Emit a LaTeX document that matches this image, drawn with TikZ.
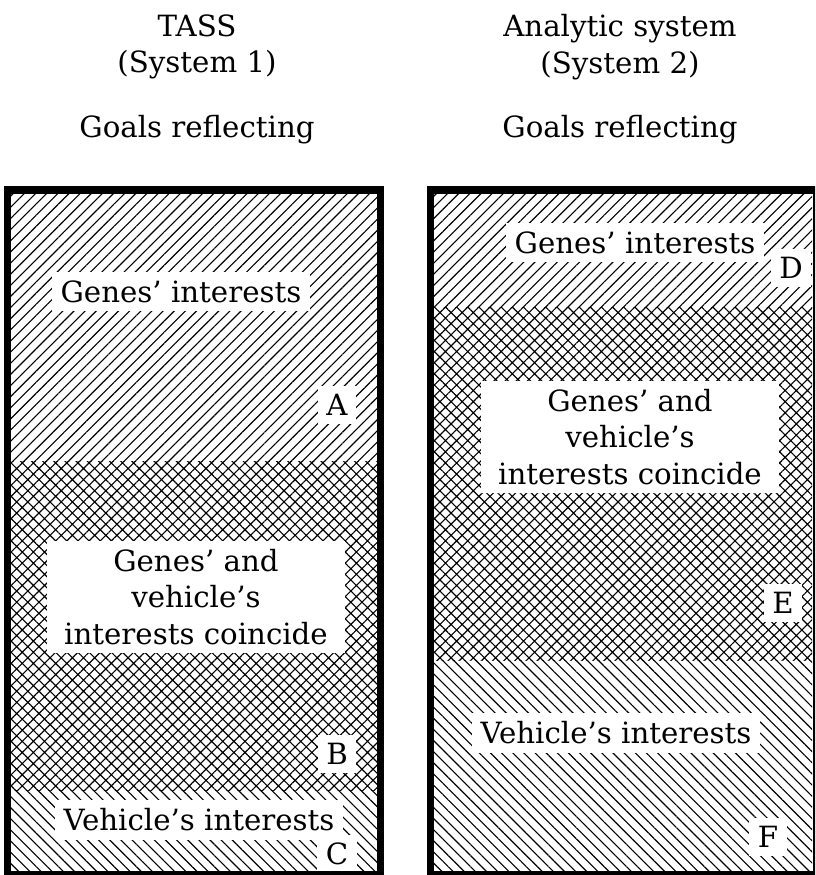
\documentclass[tikz,border=0pt]{standalone}
\usepackage{fontspec}
\setmainfont{DejaVu Serif}
\usetikzlibrary{patterns.meta}

\begin{document}
\begin{tikzpicture}[x=0.0125cm, y=-0.0125cm,
  font=\fontsize{10.4}{13}\selectfont,
  fwd/.style={pattern={Lines[angle=45, distance=2.8pt, line width=0.4pt]}},
  bwd/.style={pattern={Lines[angle=-45, distance=2.8pt, line width=0.4pt]}},
  cross/.style={pattern={Hatch[angle=45, distance=2.8pt, line width=0.4pt]}},
  frame/.style={line width=2.5pt},
  lbl/.style={fill=white, inner sep=3pt, align=center},
  tag/.style={fill=white, inner sep=3pt},
  head/.style={align=center}
]
\clip (0,0) rectangle (815,875);

% headings
\node[head] (tass) at (197,47) {TASS\\(System 1)};
\node[head] (goalsL) at (197,130) {Goals reflecting};
\node[head] (ana) at (620,47) {Analytic system\\(System 2)};
\node[head] (goalsR) at (620,130) {Goals reflecting};

% TASS column
\path[fwd] (11,194) rectangle (377,461);
\path[cross] (11,461) rectangle (377,790);
\path[bwd] (11,790) rectangle (377,871);
\node[lbl] (genesL) at (181,292) {Genes' interests};
\node[tag] (a) at (337,405) {A};
\node[lbl, inner xsep=6pt] (bothL) at (196,597) {Genes' and\\vehicle's\\interests coincide};
\node[tag] (b) at (337,754) {B};
\node[lbl] (vehL) at (199,820) {Vehicle's interests};
\node[tag] (c) at (337,854) {C};

% analytic column
\path[fwd] (434,194) rectangle (812,308);
\path[cross] (434,308) rectangle (812,660);
\path[bwd] (434,660) rectangle (812,871);
\node[lbl] (genesR) at (635,243) {Genes' interests};
\node[tag] (d) at (791,268) {D};
\node[lbl, inner xsep=6pt] (bothR) at (630,437) {Genes' and\\vehicle's\\interests coincide};
\node[tag] (e) at (783,603) {E};
\node[lbl] (vehR) at (616,733) {Vehicle's interests};
\node[tag] (f) at (768,837) {F};

% frames
\draw[frame] (7.5,190) rectangle (380.5,875);
\draw[frame] (430.5,190) rectangle (816,875);
\end{tikzpicture}
\end{document}
